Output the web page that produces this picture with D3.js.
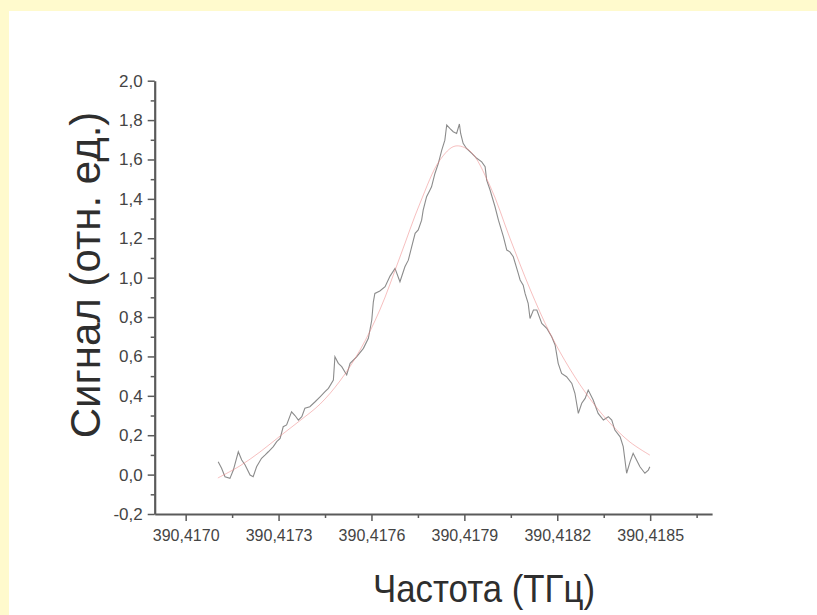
<!DOCTYPE html>
<html>
<head>
<meta charset="utf-8">
<script src="https://cdn.jsdelivr.net/npm/d3@7"></script>
<style>
  body { margin: 0; background: #fffacd; }
  svg { display: block; }
  text { font-family: "Liberation Sans", Arial, sans-serif; }
</style>
</head>
<body>
<div id="viz-container"></div>
<script>
// measured signal (grey trace)
var dataFreq = [
  390.417105, 390.417116, 390.417127, 390.417143, 390.417154, 390.417170, 390.417181, 390.417192,
  390.417208, 390.417218, 390.417229, 390.417245, 390.417256, 390.417267, 390.417283, 390.417294,
  390.417305, 390.417315, 390.417326, 390.417342, 390.417353, 390.417364, 390.417375, 390.417385,
  390.417401, 390.417418, 390.417434, 390.417450, 390.417461, 390.417477, 390.417482, 390.417493,
  390.417504, 390.417520, 390.417531, 390.417552, 390.417574, 390.417590, 390.417601, 390.417606,
  390.417611, 390.417627, 390.417644, 390.417660, 390.417676, 390.417692, 390.417708, 390.417719,
  390.417730, 390.417741, 390.417751, 390.417762, 390.417767, 390.417778, 390.417789, 390.417794,
  390.417805, 390.417816, 390.417827, 390.417837, 390.417843, 390.417853, 390.417864, 390.417875,
  390.417884, 390.417888, 390.417896, 390.417907, 390.417924, 390.417940, 390.417956, 390.417967,
  390.417972, 390.417983, 390.417999, 390.418010, 390.418026, 390.418037, 390.418047, 390.418058,
  390.418074, 390.418080, 390.418090, 390.418096, 390.418106, 390.418112, 390.418123, 390.418134,
  390.418150, 390.418166, 390.418182, 390.418193, 390.418203, 390.418214, 390.418230, 390.418247,
  390.418257, 390.418268, 390.418279, 390.418290, 390.418300, 390.418316, 390.418332, 390.418349,
  390.418365, 390.418376, 390.418386, 390.418403, 390.418413, 390.418424, 390.418435, 390.418445,
  390.418456, 390.418467, 390.418483, 390.418494, 390.418499
];
var dataSignal = [
  0.065, 0.032, -0.011, -0.019, 0.023, 0.116, 0.074, 0.049,
  -0.002, -0.011, 0.040, 0.083, 0.099, 0.116, 0.142, 0.167,
  0.184, 0.243, 0.252, 0.319, 0.300, 0.277, 0.294, 0.337,
  0.345, 0.370, 0.395, 0.421, 0.438, 0.480, 0.598, 0.565,
  0.548, 0.506, 0.565, 0.598, 0.641, 0.692, 0.785, 0.876,
  0.920, 0.932, 0.954, 1.008, 1.047, 0.979, 1.055, 1.089,
  1.157, 1.225, 1.242, 1.292, 1.343, 1.411, 1.445, 1.461,
  1.529, 1.580, 1.648, 1.698, 1.775, 1.758, 1.741, 1.732,
  1.780, 1.732, 1.682, 1.656, 1.631, 1.606, 1.588, 1.563,
  1.495, 1.445, 1.360, 1.292, 1.208, 1.140, 1.131, 1.106,
  1.022, 0.988, 0.962, 0.920, 0.870, 0.793, 0.836, 0.836,
  0.768, 0.743, 0.700, 0.658, 0.565, 0.514, 0.497, 0.463,
  0.413, 0.311, 0.362, 0.387, 0.429, 0.379, 0.311, 0.277,
  0.294, 0.277, 0.226, 0.192, 0.142, 0.007, 0.065, 0.108,
  0.074, 0.040, 0.007, 0.023, 0.040
];

// fitted curve (red)
var fitFreq = [
  390.417104, 390.417175, 390.417240, 390.417305, 390.417369, 390.417434, 390.417498, 390.417563,
  390.417627, 390.417692, 390.417757, 390.417821, 390.417870, 390.417918, 390.417983, 390.418047,
  390.418112, 390.418176, 390.418241, 390.418306, 390.418370, 390.418435, 390.418499
];
var fitSignal = [
  -0.017, 0.044, 0.115, 0.196, 0.274, 0.358, 0.475, 0.632,
  0.836, 1.105, 1.379, 1.597, 1.668, 1.643, 1.465, 1.201,
  0.942, 0.719, 0.536, 0.384, 0.262, 0.165, 0.099
];

var xTicks = [390.4170, 390.4173, 390.4176, 390.4179, 390.4182, 390.4185];
var xMinorTicks = [390.41715, 390.41745, 390.41775, 390.41805, 390.41835, 390.41865];
var yTicks = [-0.2, 0.0, 0.2, 0.4, 0.6, 0.8, 1.0, 1.2, 1.4, 1.6, 1.8, 2.0];
var yMinorTicks = [-0.1, 0.1, 0.3, 0.5, 0.7, 0.9, 1.1, 1.3, 1.5, 1.7, 1.9];

var xLabel = "Частота (ТГц)";
var yLabel = "Сигнал (отн. ед.)";

var width = 817, height = 615;

var svg = d3.select("#viz-container")
  .append("svg")
    .attr("width", width)
    .attr("height", height);

// yellow frame on top and left, white page
svg.append("rect")
  .attr("x", 9).attr("y", 11)
  .attr("width", width - 9).attr("height", height - 11)
  .attr("fill", "#ffffff");

var xScale = d3.scaleLinear()
  .domain([390.4169, 390.4187])
  .range([154.7, 712.1]);
var yScale = d3.scaleLinear()
  .domain([-0.2, 2.0])
  .range([514, 80.7]);

var commaFmt = function(digits) {
  return function(d) { return d.toFixed(digits).replace(".", ","); };
};

// x-axis
var xAxisG = svg.append("g")
  .attr("transform", "translate(0," + yScale(-0.2) + ")")
  .call(d3.axisBottom(xScale).tickValues(xTicks).tickSize(7).tickSizeOuter(0).tickPadding(6)
    .tickFormat(commaFmt(4)));
svg.append("g")
  .attr("transform", "translate(0," + yScale(-0.2) + ")")
  .call(d3.axisBottom(xScale).tickValues(xMinorTicks).tickSize(4).tickSizeOuter(0).tickFormat(""))
  .select(".domain").remove();

// y-axis
var yAxisG = svg.append("g")
  .attr("transform", "translate(" + xScale(390.4169) + ",0)")
  .call(d3.axisLeft(yScale).tickValues(yTicks).tickSize(7).tickSizeOuter(0).tickPadding(5)
    .tickFormat(commaFmt(1)));
svg.append("g")
  .attr("transform", "translate(" + xScale(390.4169) + ",0)")
  .call(d3.axisLeft(yScale).tickValues(yMinorTicks).tickSize(4).tickSizeOuter(0).tickFormat(""))
  .select(".domain").remove();

svg.selectAll(".domain").attr("stroke", "#5a5a5a").attr("stroke-width", 2.2);
svg.selectAll(".tick line").attr("stroke", "#5a5a5a").attr("stroke-width", 1.5);
xAxisG.selectAll(".tick text")
  .attr("font-size", 16).attr("fill", "#444").attr("dy", "0.9em");
yAxisG.selectAll(".tick text")
  .attr("font-size", 17).attr("fill", "#444");

// axis titles
svg.append("text")
  .attr("x", 484)
  .attr("y", 602)
  .attr("text-anchor", "middle")
  .attr("font-size", 39)
  .attr("textLength", 222)
  .attr("lengthAdjust", "spacingAndGlyphs")
  .attr("fill", "#2e2e2e")
  .text(xLabel);
svg.append("text")
  .attr("transform", "translate(100,275) rotate(-90)")
  .attr("text-anchor", "middle")
  .attr("font-size", 42)
  .attr("fill", "#2e2e2e")
  .text(yLabel);

// traces
var dataPts = dataFreq.map(function(f, i) { return [f, dataSignal[i]]; });
var fitPts = fitFreq.map(function(f, i) { return [f, fitSignal[i]]; });

var line = d3.line()
  .x(function(d) { return xScale(d[0]); })
  .y(function(d) { return yScale(d[1]); });

svg.append("path")
  .datum(dataPts)
  .attr("fill", "none")
  .attr("stroke", "#8c8c8c")
  .attr("stroke-width", 1.1)
  .attr("d", line);

svg.append("path")
  .datum(fitPts)
  .attr("fill", "none")
  .attr("stroke", "#ee8080")
  .attr("stroke-opacity", 0.5)
  .attr("stroke-width", 1)
  .attr("d", line.curve(d3.curveCatmullRom));
</script>
</body>
</html>
